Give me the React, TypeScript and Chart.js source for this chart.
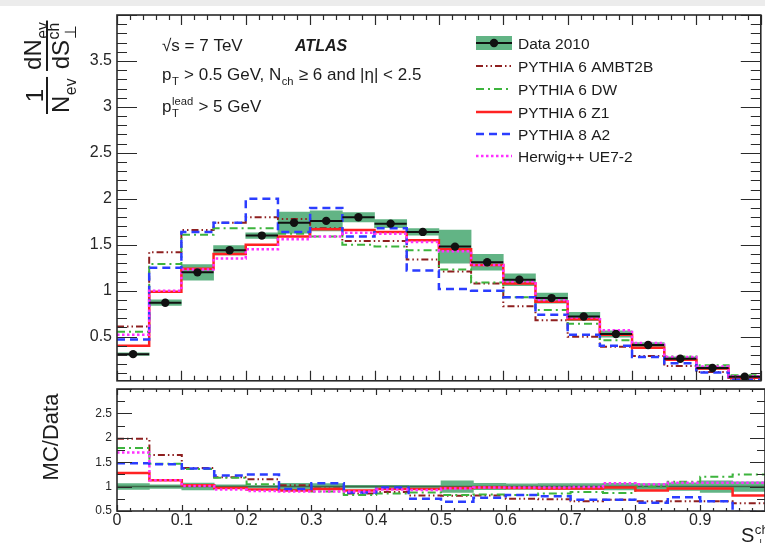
import React, { useEffect, useRef } from 'react';
import { Chart, registerables } from 'chart.js';

Chart.register(...registerables);

// ---------------- data ----------------
const binEdges = [0, 0.05, 0.1, 0.15, 0.2, 0.25, 0.3, 0.35, 0.4, 0.45, 0.5, 0.55, 0.6, 0.65, 0.7, 0.75, 0.8, 0.85, 0.9, 0.95, 1.0];

const data2010 = [0.31, 0.87, 1.2, 1.44, 1.6, 1.74, 1.76, 1.8, 1.73, 1.64, 1.48, 1.31, 1.12, 0.92, 0.72, 0.53, 0.41, 0.26, 0.16, 0.065];
const data2010Err = [0.015, 0.03, 0.085, 0.05, 0.03, 0.115, 0.11, 0.05, 0.045, 0.035, 0.18, 0.085, 0.065, 0.055, 0.045, 0.035, 0.025, 0.02, 0.015, 0.01];

const pythia6Ambt2b = [0.61, 1.42, 1.66, 1.74, 1.8, 1.78, 1.68, 1.54, 1.54, 1.34, 1.21, 1.08, 0.83, 0.68, 0.5, 0.39, 0.29, 0.18, 0.115, 0.043];
const pythia6Dw = [0.555, 1.29, 1.61, 1.68, 1.68, 1.62, 1.59, 1.5, 1.48, 1.44, 1.23, 1.09, 0.93, 0.79, 0.64, 0.46, 0.41, 0.285, 0.19, 0.08];
const pythia6Z1 = [0.4, 0.99, 1.24, 1.4, 1.5, 1.59, 1.67, 1.66, 1.64, 1.55, 1.45, 1.28, 1.08, 0.88, 0.69, 0.52, 0.38, 0.25, 0.155, 0.053];
const pythia8A2 = [0.47, 1.25, 1.64, 1.74, 2.0, 1.64, 1.9, 1.59, 1.68, 1.22, 1.02, 1.0, 0.93, 0.74, 0.52, 0.4, 0.28, 0.21, 0.11, 0.031];
const herwigUe72 = [0.52, 1.0, 1.23, 1.35, 1.45, 1.56, 1.59, 1.63, 1.62, 1.53, 1.43, 1.28, 1.1, 0.9, 0.71, 0.57, 0.43, 0.28, 0.175, 0.07];

const ratioAmbt2b = [1.98, 1.65, 1.38, 1.19, 1.15, 1.03, 0.96, 0.86, 0.89, 0.82, 0.81, 0.82, 0.75, 0.74, 0.7, 0.73, 0.7, 0.7, 0.7, 0.66];
const ratioDw = [1.79, 1.47, 1.36, 1.18, 1.05, 0.93, 0.9, 0.83, 0.86, 0.88, 0.83, 0.84, 0.83, 0.86, 0.89, 0.87, 1.0, 1.1, 1.2, 1.25];
const ratioZ1 = [1.28, 1.13, 1.03, 0.97, 0.94, 0.92, 0.95, 0.92, 0.95, 0.95, 0.97, 0.98, 0.97, 0.96, 0.96, 0.98, 0.92, 0.96, 0.96, 0.82];
const ratioA2 = [1.48, 1.46, 1.37, 1.23, 1.25, 0.95, 1.07, 0.88, 0.98, 0.75, 0.69, 0.77, 0.83, 0.8, 0.73, 0.73, 0.67, 0.78, 0.7, 0.48];
const ratioHerwig = [1.7, 1.13, 1.01, 0.94, 0.91, 0.9, 0.9, 0.9, 0.94, 0.93, 0.96, 0.98, 0.98, 0.98, 0.99, 1.07, 1.05, 1.08, 1.08, 1.08];
const ratioBandHalf = [0.06, 0.035, 0.07, 0.035, 0.02, 0.066, 0.063, 0.028, 0.026, 0.021, 0.12, 0.065, 0.058, 0.06, 0.063, 0.066, 0.06, 0.077, 0.12, 0.1];

const topYTicks = [0.5, 1, 1.5, 2, 2.5, 3, 3.5];
const ratioYTicks = [0.5, 1, 1.5, 2, 2.5];
const xTickLabels = [0, 0.1, 0.2, 0.3, 0.4, 0.5, 0.6, 0.7, 0.8, 0.9];

// ---------------- styles ----------------
const FONT = '"Liberation Sans", Arial, Helvetica, sans-serif';
const W = 765;
const TOP_H = 385;
const BOT_H = 158;
const BAND = '#62b485';
const INK = '#1c1c1c';

const mcStyles = [
  { label: 'PYTHIA 6 AMBT2B', color: '#8e1f1f', dash: [7, 3, 1.5, 3, 1.5, 3], width: 2 },
  { label: 'PYTHIA 6 DW', color: '#3db43d', dash: [8, 4, 2, 4], width: 2 },
  { label: 'PYTHIA 6 Z1', color: '#ff2222', dash: [] as number[], width: 2.5 },
  { label: 'PYTHIA 8 A2', color: '#2b3dff', dash: [8, 5], width: 2.5 },
  { label: 'Herwig++ UE7-2', color: '#ff30ff', dash: [2.5, 2.5], width: 2.5 },
];
const topSeries = [pythia6Ambt2b, pythia6Dw, pythia6Z1, pythia8A2, herwigUe72];
const ratioSeries = [ratioAmbt2b, ratioDw, ratioZ1, ratioA2, ratioHerwig];

// ---------------- helpers ----------------
const center = (i: number) => (binEdges[i] + binEdges[i + 1]) / 2;
const steps = (vals: number[]) => [
  ...vals.map((v, i) => ({ x: binEdges[i], y: v })),
  { x: binEdges[vals.length], y: vals[vals.length - 1] },
];
const fmt = (v: any) => String(Math.round(Number(v) * 100) / 100);
const zeroPad = (s: any) => {
  s.paddingTop = 0;
  s.paddingBottom = 0;
  s.paddingLeft = 0;
  s.paddingRight = 0;
};

type Part = { t?: string; sub?: string; sup?: string; style?: string };
function rich(ctx: CanvasRenderingContext2D, x: number, y: number, parts: Part[], size: number, draw = true): number {
  let cx = x;
  ctx.textAlign = 'left';
  ctx.textBaseline = 'alphabetic';
  for (const p of parts) {
    if (p.t) {
      ctx.font = `${p.style ?? ''} ${size}px ${FONT}`;
      if (draw) ctx.fillText(p.t, cx, y);
      cx += ctx.measureText(p.t).width;
    }
    const ss = size * 0.66;
    let w = 0;
    ctx.font = `${ss}px ${FONT}`;
    if (p.sub) {
      if (draw) ctx.fillText(p.sub, cx + 0.5, y + size * 0.3);
      w = Math.max(w, ctx.measureText(p.sub).width + 1);
    }
    if (p.sup) {
      if (draw) ctx.fillText(p.sup, cx + 0.5, y - size * 0.42);
      w = Math.max(w, ctx.measureText(p.sup).width + 1);
    }
    cx += w;
  }
  return cx - x;
}

type FrameSpec = { yLo: number; yHi: number; yMinor: number; yMajor: number; yMajorLen: number; yMinorLen: number; xMajorLen: number; xMinorLen: number };
function makeFrame(id: string, spec: FrameSpec) {
  return {
    id,
    afterDatasetsDraw(chart: any) {
      const { ctx, chartArea: a } = chart;
      const xs = chart.scales.x;
      const ys = chart.scales.y;
      ctx.save();
      ctx.strokeStyle = '#2a2a2a';
      ctx.lineWidth = 1.2;
      ctx.setLineDash([]);
      ctx.beginPath();
      for (let i = 0; i <= 50; i++) {
        const v = i / 50;
        const px = Math.round(xs.getPixelForValue(v)) + 0.5;
        if (px < a.left - 1 || px > a.right + 1) continue;
        const len = i % 5 === 0 ? spec.xMajorLen : spec.xMinorLen;
        ctx.moveTo(px, a.bottom);
        ctx.lineTo(px, a.bottom - len);
        ctx.moveTo(px, a.top);
        ctx.lineTo(px, a.top + len);
      }
      const n = Math.round((spec.yHi - spec.yLo) / spec.yMinor);
      for (let k = 0; k <= n; k++) {
        const v = spec.yLo + k * spec.yMinor;
        if (v < ys.min - 1e-9 || v > ys.max + 1e-9) continue;
        const py = Math.round(ys.getPixelForValue(v)) + 0.5;
        const r = v / spec.yMajor;
        const major = Math.abs(r - Math.round(r)) < 1e-6;
        const len = major ? spec.yMajorLen : spec.yMinorLen;
        ctx.moveTo(a.left, py);
        ctx.lineTo(a.left + len, py);
        ctx.moveTo(a.right, py);
        ctx.lineTo(a.right - len, py);
      }
      ctx.stroke();
      ctx.lineWidth = 1.6;
      ctx.strokeRect(a.left, a.top, a.right - a.left, a.bottom - a.top);
      ctx.restore();
    },
  };
}

const topDecor = {
  id: 'topDecor',
  afterDraw(chart: any) {
    const ctx: CanvasRenderingContext2D = chart.ctx;
    ctx.save();
    ctx.fillStyle = INK;
    // annotations
    rich(ctx, 162, 51, [{ t: '\u221As = 7 TeV' }], 17);
    ctx.font = `italic bold 16px ${FONT}`;
    ctx.fillText('ATLAS', 295, 51);
    rich(ctx, 162, 80, [{ t: 'p', sub: 'T' }, { t: ' > 0.5 GeV, N', sub: 'ch' }, { t: ' \u2265 6 and |\u03B7| < 2.5' }], 17);
    rich(ctx, 162, 112, [{ t: 'p', sub: 'T', sup: 'lead' }, { t: ' > 5 GeV' }], 17);

    // legend
    const rows = [43, 66, 89, 112, 134, 156];
    const x0 = 476, x1 = 512;
    ctx.fillStyle = BAND;
    ctx.fillRect(x0, rows[0] - 7, x1 - x0, 14);
    ctx.strokeStyle = '#111';
    ctx.lineWidth = 2;
    ctx.beginPath();
    ctx.moveTo(x0, rows[0]);
    ctx.lineTo(x1, rows[0]);
    ctx.stroke();
    ctx.fillStyle = '#111';
    ctx.beginPath();
    ctx.arc((x0 + x1) / 2, rows[0], 4.2, 0, Math.PI * 2);
    ctx.fill();
    mcStyles.forEach((s, i) => {
      ctx.strokeStyle = s.color;
      ctx.lineWidth = s.width;
      ctx.setLineDash(s.dash);
      ctx.beginPath();
      ctx.moveTo(x0, rows[i + 1]);
      ctx.lineTo(x1, rows[i + 1]);
      ctx.stroke();
    });
    ctx.setLineDash([]);
    ctx.fillStyle = INK;
    ctx.font = `15.5px ${FONT}`;
    ctx.textAlign = 'left';
    ctx.textBaseline = 'alphabetic';
    ['Data 2010', ...mcStyles.map((s) => s.label)].forEach((l, i) => ctx.fillText(l, 518, rows[i] + 5.5));

    // y title: 1/N_ev dN_ev/dS_perp^ch (rotated)
    ctx.translate(47, 114);
    ctx.rotate(-Math.PI / 2);
    const fs = 24;
    const n1: Part[] = [{ t: '1' }];
    const d1: Part[] = [{ t: 'N', sub: 'ev' }];
    const w1n = rich(ctx, 0, 0, n1, fs, false);
    const w1d = rich(ctx, 0, 0, d1, fs, false);
    const w1 = Math.max(w1n, w1d) + 2;
    rich(ctx, (w1 - w1n) / 2, -4, n1, fs);
    rich(ctx, (w1 - w1d) / 2, 22, d1, fs);
    ctx.fillRect(0, -1, w1, 2);
    const s2 = w1 + 6;
    const n2: Part[] = [{ t: 'dN', sub: 'ev' }];
    const d2: Part[] = [{ t: 'dS', sub: '\u22A5', sup: 'ch' }];
    const w2n = rich(ctx, 0, 0, n2, fs, false);
    const w2d = rich(ctx, 0, 0, d2, fs, false);
    const w2 = Math.max(w2n, w2d) + 2;
    rich(ctx, s2 + (w2 - w2n) / 2, -6, n2, fs);
    rich(ctx, s2 + (w2 - w2d) / 2, 22, d2, fs);
    ctx.fillRect(s2, -1, w2, 2);
    ctx.restore();
  },
};

const botDecor = {
  id: 'botDecor',
  afterDraw(chart: any) {
    const ctx: CanvasRenderingContext2D = chart.ctx;
    ctx.save();
    ctx.fillStyle = INK;
    rich(ctx, 741, 157, [{ t: 'S', sub: '\u22A5', sup: 'ch' }], 20);
    ctx.translate(52, 52);
    ctx.rotate(-Math.PI / 2);
    ctx.font = `22px ${FONT}`;
    ctx.textAlign = 'center';
    ctx.textBaseline = 'middle';
    ctx.fillText('MC/Data', 0, 0);
    ctx.restore();
  },
};

const noGrid = { display: false, drawTicks: false };

function topConfig(): any {
  const dataBars: { x: number; y: number | null }[] = [];
  data2010.forEach((v, i) => {
    dataBars.push({ x: binEdges[i], y: v }, { x: binEdges[i + 1], y: v }, { x: binEdges[i + 1], y: null });
  });
  return {
    type: 'bar',
    data: {
      datasets: [
        {
          type: 'bar',
          data: data2010.map((v, i) => ({ x: center(i), y: [v - data2010Err[i], v + data2010Err[i]] })),
          backgroundColor: BAND,
          borderWidth: 0,
          barPercentage: 1,
          categoryPercentage: 1,
          order: 10,
        },
        ...mcStyles.map((s, k) => ({
          type: 'line',
          label: s.label,
          data: steps(topSeries[k]),
          borderColor: s.color,
          borderDash: s.dash,
          borderWidth: s.width,
          stepped: 'before',
          pointRadius: 0,
          pointHoverRadius: 0,
          fill: false,
          borderCapStyle: 'butt',
          order: 5 - k,
        })),
        {
          type: 'line',
          label: 'Data 2010',
          data: dataBars,
          borderColor: '#111',
          borderWidth: 2,
          pointRadius: 0,
          pointHoverRadius: 0,
          spanGaps: false,
          fill: false,
          order: 0,
        },
        {
          type: 'line',
          data: data2010.map((v, i) => ({ x: center(i), y: v })),
          showLine: false,
          pointRadius: 4.2,
          pointHoverRadius: 4.2,
          pointBackgroundColor: '#111',
          pointBorderWidth: 0,
          order: -1,
        },
      ],
    },
    options: {
      responsive: false,
      animation: false,
      devicePixelRatio: 1,
      events: [],
      layout: { padding: { top: 15, left: 0, right: 0, bottom: 0 } },
      plugins: { legend: { display: false }, tooltip: { enabled: false } },
      scales: {
        x: {
          type: 'linear',
          min: 0,
          max: 1,
          offset: false,
          grid: noGrid,
          border: { display: false },
          ticks: { display: false },
          afterFit: (s: any) => { s.height = 4; zeroPad(s); },
        },
        y: {
          type: 'linear',
          min: 0.02,
          max: 4,
          grid: noGrid,
          border: { display: false },
          afterBuildTicks: (s: any) => { s.ticks = topYTicks.map((v) => ({ value: v })); },
          ticks: { font: { family: FONT, size: 16 }, color: '#262626', padding: 5, callback: fmt },
          afterFit: (s: any) => { s.width = 117; zeroPad(s); },
        },
      },
    },
    plugins: [
      makeFrame('frameTop', { yLo: 0, yHi: 4, yMinor: 0.1, yMajor: 0.5, yMajorLen: 20, yMinorLen: 10, xMajorLen: 10, xMinorLen: 5 }),
      topDecor,
    ],
  };
}

function botConfig(): any {
  return {
    type: 'bar',
    data: {
      datasets: [
        {
          type: 'bar',
          data: ratioBandHalf.map((h, i) => ({ x: center(i), y: [1 - h, 1 + h] })),
          backgroundColor: BAND,
          borderWidth: 0,
          barPercentage: 1,
          categoryPercentage: 1,
          order: 10,
        },
        {
          type: 'line',
          data: [{ x: 0, y: 1 }, { x: 1, y: 1 }],
          borderColor: '#3b6b4a',
          borderWidth: 1.5,
          pointRadius: 0,
          pointHoverRadius: 0,
          fill: false,
          order: 9,
        },
        ...mcStyles.map((s, k) => ({
          type: 'line',
          label: s.label,
          data: steps(ratioSeries[k]),
          borderColor: s.color,
          borderDash: s.dash,
          borderWidth: s.width,
          stepped: 'before',
          pointRadius: 0,
          pointHoverRadius: 0,
          fill: false,
          clip: 0,
          borderCapStyle: 'butt',
          order: 5 - k,
        })),
      ],
    },
    options: {
      responsive: false,
      animation: false,
      devicePixelRatio: 1,
      events: [],
      layout: { padding: { top: 4, left: 0, right: 0, bottom: 0 } },
      plugins: { legend: { display: false }, tooltip: { enabled: false } },
      scales: {
        x: {
          type: 'linear',
          min: 0,
          max: 1,
          offset: false,
          grid: noGrid,
          border: { display: false },
          afterBuildTicks: (s: any) => { s.ticks = xTickLabels.map((v) => ({ value: v })); },
          ticks: { font: { family: FONT, size: 16 }, color: '#262626', padding: 0, maxRotation: 0, minRotation: 0, autoSkip: false, callback: fmt },
          afterFit: (s: any) => { s.height = 32; zeroPad(s); },
        },
        y: {
          type: 'linear',
          min: 0.5,
          max: 3,
          grid: noGrid,
          border: { display: false },
          afterBuildTicks: (s: any) => { s.ticks = ratioYTicks.map((v) => ({ value: v })); },
          ticks: { font: { family: FONT, size: 12 }, color: '#262626', padding: 5, callback: fmt },
          afterFit: (s: any) => { s.width = 117; zeroPad(s); },
        },
      },
    },
    plugins: [
      makeFrame('frameBot', { yLo: 0.5, yHi: 3, yMinor: 0.25, yMajor: 0.5, yMajorLen: 15, yMinorLen: 8, xMajorLen: 6, xMinorLen: 3 }),
      botDecor,
    ],
  };
}

export default function App() {
  const topRef = useRef<HTMLCanvasElement>(null);
  const botRef = useRef<HTMLCanvasElement>(null);
  useEffect(() => {
    const top = new Chart(topRef.current as HTMLCanvasElement, topConfig());
    const bot = new Chart(botRef.current as HTMLCanvasElement, botConfig());
    return () => {
      top.destroy();
      bot.destroy();
    };
  }, []);
  return (
    <div style={{ position: 'fixed', left: 0, top: 0, width: W, height: 543, background: '#fff', overflow: 'hidden' }}>
      <div style={{ position: 'absolute', left: 0, top: 0, width: W, height: 6, background: '#ececec' }} />
      <canvas ref={topRef} width={W} height={TOP_H} style={{ position: 'absolute', left: 0, top: 0, width: W, height: TOP_H }} />
      <canvas ref={botRef} width={W} height={BOT_H} style={{ position: 'absolute', left: 0, top: TOP_H, width: W, height: BOT_H }} />
    </div>
  );
}
